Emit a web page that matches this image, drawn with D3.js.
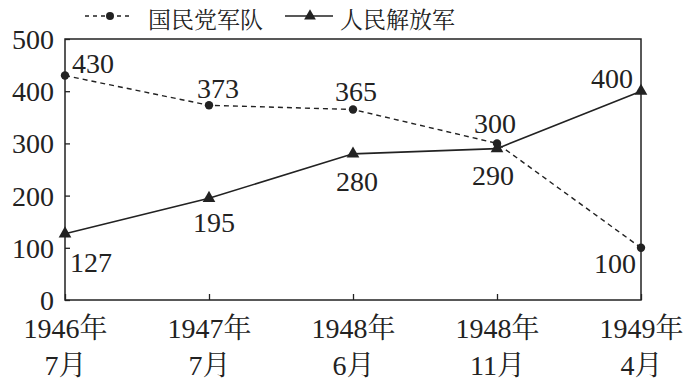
<!DOCTYPE html>
<html>
<head>
<meta charset="utf-8">
<script src="https://cdn.jsdelivr.net/npm/d3@7"></script>
<style>
  body { margin: 0; background: #fff; }
</style>
</head>
<body>
<div id="chart"></div>
<script>
// categories and values
const periods = [['1946年', '7月'], ['1947年', '7月'], ['1948年', '6月'], ['1948年', '11月'], ['1949年', '4月']];
const kmtValues = [430, 373, 365, 300, 100];
const plaValues = [127, 195, 280, 290, 400];
const yTicks = [0, 100, 200, 300, 400, 500];
const seriesNames = ['国民党军队', '人民解放军'];

// where each value label sits relative to its point: [dx, dy, anchor]
const kmtLabelPos = [[7, -3, 'start'], [9, -7, 'middle'], [3, -8, 'middle'], [-2, -10, 'middle'], [-5, 25, 'end']];
const plaLabelPos = [[5, 38, 'start'], [5, 34, 'middle'], [4, 37, 'middle'], [-4, 36, 'middle'], [-8, -3, 'end']];

const W = 691, H = 383;
const box = { left: 65, right: 641, top: 39, bottom: 300 };
const serifFont = "'Liberation Serif', 'Noto Serif CJK SC', serif";
const cjkFont = "'Noto Serif CJK SC', 'Liberation Serif', serif";
const ink = '#222';

const svg = d3.select('#chart').append('svg')
  .attr('width', W).attr('height', H);

const keys = d3.range(periods.length);
const x = d3.scalePoint().domain(keys).range([box.left, box.right]);
const y = d3.scaleLinear().domain([0, 500]).range([box.bottom, box.top]);

// frame
svg.append('rect')
  .attr('x', box.left).attr('y', box.top)
  .attr('width', box.right - box.left).attr('height', box.bottom - box.top)
  .attr('fill', 'none').attr('stroke', ink).attr('stroke-width', 1.5);

// y axis, ticks pointing inward
const yAxis = svg.append('g')
  .attr('transform', `translate(${box.left},0)`)
  .call(d3.axisLeft(y).tickValues(yTicks).tickSize(-5).tickPadding(11));
yAxis.select('.domain').remove();
yAxis.selectAll('line').attr('stroke', ink).attr('stroke-width', 1.3);
yAxis.selectAll('text')
  .style('font-family', serifFont).style('font-size', '28px').style('fill', ink)
  .attr('dy', '0.34em');

// x axis, ticks pointing inward, two-line labels
const xAxis = svg.append('g')
  .attr('transform', `translate(0,${box.bottom})`)
  .call(d3.axisBottom(x).tickSize(-6).tickFormat(''));
xAxis.select('.domain').remove();
xAxis.selectAll('line').attr('stroke', ink).attr('stroke-width', 1.3);
xAxis.selectAll('.tick text').remove();
xAxis.selectAll('.tick').each(function (d) {
  const t = d3.select(this).append('text')
    .attr('text-anchor', 'middle')
    .style('font-family', serifFont)
    .style('font-size', '28px')
    .style('fill', ink);
  t.append('tspan').attr('x', 0).attr('y', 38).text(periods[d][0]);
  t.append('tspan').attr('x', 0).attr('y', 75).text(periods[d][1]);
});

// lines
const line = d3.line().x((d, i) => x(i)).y((d) => y(d));

svg.append('path')
  .datum(kmtValues)
  .attr('d', line)
  .attr('fill', 'none').attr('stroke', ink)
  .attr('stroke-width', 1.4).attr('stroke-dasharray', '5,4');

svg.append('path')
  .datum(plaValues)
  .attr('d', line)
  .attr('fill', 'none').attr('stroke', ink).attr('stroke-width', 1.6);

// markers
svg.selectAll('.dot')
  .data(kmtValues)
  .join('circle')
  .attr('cx', (d, i) => x(i)).attr('cy', (d) => y(d))
  .attr('r', 4.2).attr('fill', ink);

const tri = d3.symbol(d3.symbolTriangle, 70);
svg.selectAll('.tri')
  .data(plaValues)
  .join('path')
  .attr('d', tri)
  .attr('transform', (d, i) => `translate(${x(i)},${y(d)})`)
  .attr('fill', ink);

// value labels
const addLabels = (values, pos) => {
  svg.append('g')
    .selectAll('text')
    .data(values)
    .join('text')
    .attr('x', (d, i) => x(i) + pos[i][0])
    .attr('y', (d, i) => y(d) + pos[i][1])
    .attr('text-anchor', (d, i) => pos[i][2])
    .style('font-family', serifFont)
    .style('font-size', '28px')
    .style('fill', ink)
    .text((d) => d);
};
addLabels(kmtValues, kmtLabelPos);
addLabels(plaValues, plaLabelPos);

// legend
const legend = svg.append('g');
legend.append('line')
  .attr('x1', 85).attr('x2', 133).attr('y1', 16).attr('y2', 16)
  .attr('stroke', ink).attr('stroke-width', 1.4).attr('stroke-dasharray', '4,4');
legend.append('circle').attr('cx', 110).attr('cy', 16).attr('r', 4).attr('fill', ink);
legend.append('text')
  .attr('x', 148).attr('y', 28)
  .style('font-family', cjkFont)
  .style('font-size', '23px').style('fill', ink)
  .text(seriesNames[0]);

legend.append('line')
  .attr('x1', 285).attr('x2', 333).attr('y1', 16).attr('y2', 16)
  .attr('stroke', ink).attr('stroke-width', 1.6);
legend.append('path')
  .attr('d', d3.symbol(d3.symbolTriangle, 60))
  .attr('transform', 'translate(310,16)')
  .attr('fill', ink);
legend.append('text')
  .attr('x', 340).attr('y', 28)
  .style('font-family', cjkFont)
  .style('font-size', '23px').style('fill', ink)
  .text(seriesNames[1]);
</script>
</body>
</html>
